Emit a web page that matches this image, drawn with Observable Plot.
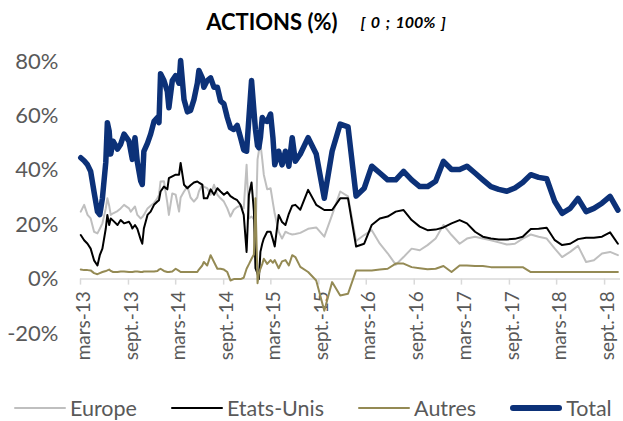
<!DOCTYPE html>
<html>
<head>
<meta charset="utf-8">
<script src="https://cdn.jsdelivr.net/npm/d3@7"></script>
<script src="https://cdn.jsdelivr.net/npm/@observablehq/plot@0.6"></script>
<style>
  html, body { margin: 0; padding: 0; background: #fff; }
  #wrap { width: 623px; height: 421px; position: relative; font-family: Lato, "Open Sans", sans-serif; }
  #title { height: 42px; display: flex; justify-content: center; align-items: center; padding-left: 29px; box-sizing: border-box; color: #000; }
  #title .main { font-weight: bold; font-size: 22px; }
  #title .sub { font-weight: bold; font-style: italic; font-size: 16px; margin-left: 23px; word-spacing: 2px; }
  #chart { height: 355px; }
  #legend { height: 22px; line-height: 20px; display: flex; justify-content: flex-start; align-items: center; gap: 34px; color: #595959; font-size: 21.5px; padding-left: 14px; box-sizing: border-box; }
  #legend .item { display: flex; align-items: center; white-space: nowrap; }
  #legend .sw { display: inline-block; width: 52px; margin-right: 4px; border-radius: 3px; }
</style>
</head>
<body>
<div id="wrap">
  <div id="title"><span class="main">ACTIONS (%)</span><span class="sub">[ 0 ; 100% ]</span></div>
  <div id="chart"></div>
  <div id="legend"></div>
</div>
<script>
// ---- Data ----
const dates = [
  "2013-03-02","2013-03-15","2013-03-28","2013-04-09","2013-04-22","2013-05-05","2013-05-14","2013-05-24",
  "2013-06-06","2013-06-12","2013-06-19","2013-06-25","2013-07-04","2013-07-21","2013-08-02","2013-08-15",
  "2013-09-03","2013-09-10","2013-09-16","2013-09-26","2013-10-05","2013-10-18","2013-10-24","2013-10-30",
  "2013-11-13","2013-11-25","2013-12-08","2013-12-21","2013-12-27","2014-01-02","2014-01-15","2014-01-28",
  "2014-02-03","2014-02-16","2014-03-01","2014-03-14","2014-03-20","2014-04-02","2014-04-15","2014-04-27",
  "2014-05-10","2014-05-23","2014-05-29","2014-06-11","2014-06-17","2014-06-30","2014-07-13","2014-07-26",
  "2014-08-08","2014-08-20","2014-09-02","2014-09-15","2014-09-27","2014-10-10","2014-10-23","2014-11-05",
  "2014-11-17","2014-11-28","2014-12-07","2014-12-17","2014-12-26","2015-01-01","2015-01-09","2015-01-14",
  "2015-01-20","2015-01-27","2015-02-02","2015-02-15","2015-02-28","2015-03-09","2015-03-16","2015-03-31",
  "2015-04-13","2015-04-26","2015-05-09","2015-05-22","2015-06-03",
  "2015-06-22","2015-07-22","2015-08-22","2015-09-22","2015-10-22","2015-11-22","2015-12-22",
  "2016-01-22","2016-02-22","2016-03-22","2016-04-22","2016-05-22","2016-06-22","2016-07-22","2016-08-22",
  "2016-09-22","2016-10-22","2016-11-22","2016-12-22","2017-01-22","2017-02-22","2017-03-22","2017-04-22",
  "2017-05-22","2017-06-22","2017-07-22","2017-08-22","2017-09-22","2017-10-22","2017-11-22","2017-12-22",
  "2018-01-22","2018-02-22","2018-03-22","2018-04-22","2018-05-22","2018-06-22","2018-07-22","2018-08-22",
  "2018-09-22","2018-10-22"
];
const europe = [
  24.8,27.3,23.6,22.3,17.4,16.8,18.5,20.5,
  26,29.7,27,23.6,24.2,25,26,27.3,
  26,24.8,25.5,26.7,23.6,22.3,22.8,23.6,
  26,27,28,29.7,31,35.9,36,28,
  23.6,31.5,31,24.8,30,32.2,34,30,
  28.5,30,32.2,34.7,34,33.4,31,34.7,
  31,29.7,28.5,26,23,25.5,26.5,27,
  26,42,22.3,23,22,15,44,47,
  50,44,38.4,33,33.4,28,24,17.4,
  14.9,17.4,16.8,16.4,16.6,
  17,18.5,19,15.6,23.6,32.2,30.4,
  14,16.2,18,13,9.5,5.3,8.1,11.2,
  10.6,12.5,14.9,19.9,16.2,13,14.9,15.6,
  14.9,14.3,13.5,12.7,13,14.9,16.4,15.6,
  14.9,11.2,8.1,10,12.2,6.3,6.9,9.4,
  10,8.8
];
const etatsUnis = [
  16.2,14.3,13,11.2,6.9,5,8.8,11.2,
  18.6,23.6,19.9,22.3,21.5,19.9,21.7,20.5,
  21.1,20,18.6,19.9,18.5,14.5,13,18.6,
  23.6,24.8,27.3,28.5,29,32.2,34,33,
  37.1,37.8,38.4,38.4,42.7,34.7,33.4,34.5,
  35.5,35.9,35.5,34.7,29.7,29.7,33,31,
  33.4,32.2,31,32,30.5,29.7,29,27.3,
  23.6,10,31,35.5,25,4,2,0,
  10,13,14.9,17.4,17.4,14.5,12,23.6,
  21,19.9,24,27,27.3,
  25.5,32.8,27.3,25.4,25.4,29.7,29.7,
  12,13,19.9,22.3,23,24.8,25.4,21.7,
  19.3,18,18.2,19,20.5,21.7,20.5,17.4,
  15.6,14.9,14.6,14.6,14.8,15.6,18.4,18.5,
  18.9,14.3,12.5,13,14.7,15.2,15.2,15.6,
  17.2,13
];
const autres = [
  3.5,3.3,3.3,3.2,2.2,1.8,2.2,2.6,
  3,3.2,3.5,3,2.6,2.6,2.8,2.8,
  2.6,2.6,2.6,2.8,2.8,2.6,2.6,2.8,
  2.8,2.8,2.8,3,3.5,3.8,3,2.6,
  2.6,2.8,3.8,3,2.6,2.6,2.6,2.6,
  2.6,2.6,3.5,5,6.3,5,8.8,6.3,
  3.8,3.8,3.5,2.6,-0.5,0,0,0,
  0.5,3.8,5.5,7.5,9,29.7,-1.5,2,
  3.8,5.5,7.5,5.6,7,6,7,4,
  6.5,7,5,8.8,8.1,
  4.5,2.6,-0.5,-11.6,-1.1,-6,-5.4,
  3.2,3.2,3.2,3.5,3.8,5.7,5.7,4.4,
  4,3.6,3.8,4.8,2.6,5,5,4.8,
  4.8,4.4,4.4,4.4,4.4,4.4,2.6,2.6,
  2.6,2.6,2.6,2.6,2.6,2.6,2.6,2.6,
  2.6,2.6
];
const total = [
  44.6,43.5,42,39.6,32,24.8,23.7,29.7,
  43,57.5,54.4,46,50.7,47.8,49.6,53.3,
  50.7,47,44,52,43,36,34.8,47,
  50,53.3,58,59.4,57.5,75.5,73,69,
  63,73,74.8,72,80.4,66,61.5,62,
  66,72,76.7,74,70.5,73,74,70.5,
  70.5,65.5,64.4,59.4,55.7,55,56.5,52,
  47.5,47,59.4,73,62,55,49,48.3,
  52,59.4,58.5,58,60.7,52,42,47,
  42,47,41.5,52,43.3,
  46,52,46,29.7,47,57,56,
  30.5,33.4,41.5,39,36.5,36.5,39.6,36.5,
  34,34,36,43.3,40.3,40.3,41.5,39,
  36.5,34,33,32.3,33.5,35.5,38.4,37.4,
  36.9,28.5,24.2,26,29.7,24.8,26,27.9,
  30.4,25.4
];

const seriesNames = ["Europe", "Etats-Unis", "Autres", "Total"];
const seriesValues = [europe, etatsUnis, autres, total];
const seriesColors = ["#bfbfbf", "#000000", "#948a54", "#0c3178"];
const seriesWidths = [2, 2, 2, 5.5];

const tickDates = ["2013-03-01","2013-09-01","2014-03-01","2014-09-01","2015-03-01","2015-09-01",
                   "2016-03-01","2016-09-01","2017-03-01","2017-09-01","2018-03-01","2018-09-01"];
const tickLabels = ["mars-13","sept.-13","mars-14","sept.-14","mars-15","sept.-15",
                    "mars-16","sept.-16","mars-17","sept.-17","mars-18","sept.-18"];
const yTicks = [-20, 0, 20, 40, 60, 80];
const xDomain = ["2013-03-01", "2018-11-01"];
const yDomain = [-20, 80];

// ---- Build ----
const parse = s => new Date(s + "T00:00:00Z");
const ticks = tickDates.map((d, i) => ({date: parse(d), label: tickLabels[i]}));

const lineMarks = seriesNames.map((name, k) =>
  Plot.line(dates.map((d, i) => ({date: parse(d), value: seriesValues[k][i]})), {
    x: "date", y: "value",
    stroke: seriesColors[k], strokeWidth: seriesWidths[k],
    strokeLinejoin: "round", strokeLinecap: "round"
  })
);

const chart = Plot.plot({
  width: 623,
  height: 355,
  marginLeft: 80,
  marginRight: 3,
  marginTop: 19,
  marginBottom: 64,
  style: {color: "#595959", background: "#fff", fontFamily: "Lato, 'Open Sans', sans-serif", overflow: "visible"},
  x: {type: "utc", domain: xDomain.map(parse), axis: null},
  y: {domain: yDomain},
  marks: [
    Plot.axisY(yTicks, {tickFormat: d => d + "%", tickSize: 0, tickPadding: 22, fontSize: 22, fill: "#595959", label: null}),
    Plot.ruleY([0], {stroke: "#d9d9d9", strokeWidth: 1.5}),
    Plot.ruleX(ticks, {x: "date", y1: 0, y2: 0, insetBottom: -6, stroke: "#d9d9d9", strokeWidth: 1.5}),
    Plot.text(ticks, {x: "date", y: 0, text: "label", rotate: -90, textAnchor: "end", dy: 12, dx: 3, fontSize: 19, fill: "#595959"}),
    ...lineMarks
  ]
});
document.getElementById("chart").appendChild(chart);

// ---- Legend ----
const legend = document.getElementById("legend");
seriesNames.forEach((name, k) => {
  const item = document.createElement("span");
  item.className = "item";
  const sw = document.createElement("span");
  sw.className = "sw";
  sw.style.height = seriesWidths[k] + "px";
  sw.style.background = seriesColors[k];
  item.appendChild(sw);
  item.appendChild(document.createTextNode(name));
  legend.appendChild(item);
});
</script>
</body>
</html>
